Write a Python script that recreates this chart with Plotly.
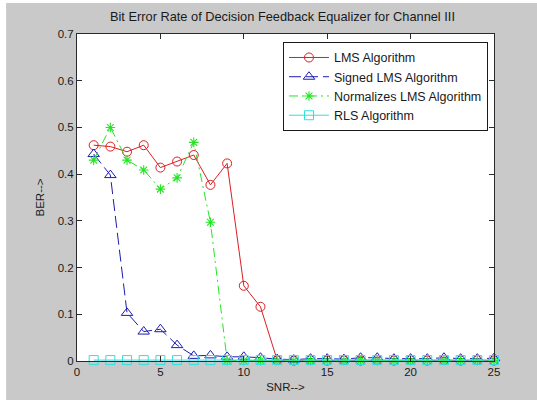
import plotly.graph_objects as go

# SNR values (dB)
snr = list(range(1, 26))

# Bit error rates for each equalizer algorithm
ber_lms = [0.462, 0.459, 0.448, 0.462, 0.414, 0.427, 0.441, 0.377, 0.423, 0.161, 0.116,
           0.002, 0.001, 0.002, 0.001, 0.002, 0.001, 0.002, 0.001, 0.002, 0.001, 0.002, 0.001, 0.002, 0.001]
ber_signed = [0.443, 0.398, 0.103, 0.063, 0.068, 0.034, 0.011, 0.012, 0.009, 0.009, 0.007,
              0.004, 0.003, 0.005, 0.005, 0.004, 0.007, 0.007, 0.005, 0.005, 0.005, 0.007, 0.005, 0.005, 0.006]
ber_nlms = [0.430, 0.500, 0.430, 0.409, 0.368, 0.392, 0.468, 0.297, 0.001, 0.001, 0.001,
            0.001, 0.001, 0.001, 0.001, 0.001, 0.001, 0.001, 0.001, 0.001, 0.001, 0.001, 0.001, 0.001, 0.001]
ber_rls = [0.002] * 25

x_ticks = [0, 5, 10, 15, 20, 25]
y_ticks = [0, 0.1, 0.2, 0.3, 0.4, 0.5, 0.6, 0.7]
y_tick_text = ["0", "0.1", "0.2", "0.3", "0.4", "0.5", "0.6", "0.7"]

FONT = "Liberation Sans, Arial, sans-serif"
TEXT = "#1a1a1a"
BG = "#c9c9c9"

fig = go.Figure()

fig.add_trace(go.Scatter(
    x=snr, y=ber_lms, name="LMS Algorithm", mode="lines+markers",
    line=dict(color="#dc1e22", width=1),
    marker=dict(symbol="circle-open", size=9, color="#dc1e22", line=dict(width=1)),
    cliponaxis=False))
fig.add_trace(go.Scatter(
    x=snr, y=ber_signed, name="Signed LMS Algorithm", mode="lines+markers",
    line=dict(color="#1c1cb0", width=1, dash="12px,5px"),
    marker=dict(symbol="triangle-up-open", size=10, color="#1c1cb0", line=dict(width=1)),
    cliponaxis=False))
fig.add_trace(go.Scatter(
    x=snr, y=ber_nlms, name="Normalizes LMS Algorithm", mode="lines+markers",
    line=dict(color="#22e622", width=1, dash="9px,4px,2px,4px"),
    marker=dict(symbol="asterisk-open", size=8, color="#22e622", line=dict(width=1.1, color="#22e622")),
    cliponaxis=False))
fig.add_trace(go.Scatter(
    x=snr, y=ber_rls, name="RLS Algorithm", mode="lines+markers",
    line=dict(color="#30e0e0", width=1),
    marker=dict(symbol="square-open", size=9, color="#30e0e0", line=dict(width=1)),
    cliponaxis=False))

axis_common = dict(
    showgrid=False, zeroline=False, showline=True, linecolor="#2a2a2a", linewidth=1,
    mirror="ticks", ticks="inside", ticklen=5, tickcolor="#2a2a2a",
    tickfont=dict(family=FONT, size=11.5, color=TEXT),
)

fig.update_layout(
    width=537, height=405,
    margin=dict(l=77, r=43, t=34, b=44),
    paper_bgcolor=BG, plot_bgcolor="white",
    title=dict(text="Bit Error Rate of Decision Feedback Equalizer for Channel III",
               x=0.526, xanchor="center", y=0.958, yanchor="middle",
               font=dict(family=FONT, size=12.8, color=TEXT)),
    xaxis=dict(range=[0, 25], tickvals=x_ticks,
               title=dict(text="SNR-->", font=dict(family=FONT, size=11.5, color=TEXT), standoff=6),
               **axis_common),
    yaxis=dict(range=[0, 0.7], tickvals=y_ticks, ticktext=y_tick_text,
               title=dict(text="BER-->", font=dict(family=FONT, size=11.5, color=TEXT), standoff=10),
               **axis_common),
    legend=dict(x=0.494, y=0.976, xanchor="left", yanchor="top",
                bgcolor="white", bordercolor=TEXT, borderwidth=1,
                font=dict(family=FONT, size=12.5, color=TEXT),
                tracegroupgap=0, itemwidth=40),
    showlegend=True,
    shapes=[
        # white border strips at the edge of the figure
        dict(type="rect", xref="paper", yref="paper", x0=-0.2, x1=-0.170, y0=-0.2, y1=1.2,
             fillcolor="white", line=dict(width=0), layer="above"),
        dict(type="rect", xref="paper", yref="paper", x0=-0.2, x1=1.2, y0=-0.2, y1=-0.1193,
             fillcolor="white", line=dict(width=0), layer="above"),
        dict(type="rect", xref="paper", yref="paper", x0=-0.2, x1=1.2, y0=1.095, y1=1.2,
             fillcolor="white", line=dict(width=0), layer="above"),
    ],
)

fig.write_html("out.html")
